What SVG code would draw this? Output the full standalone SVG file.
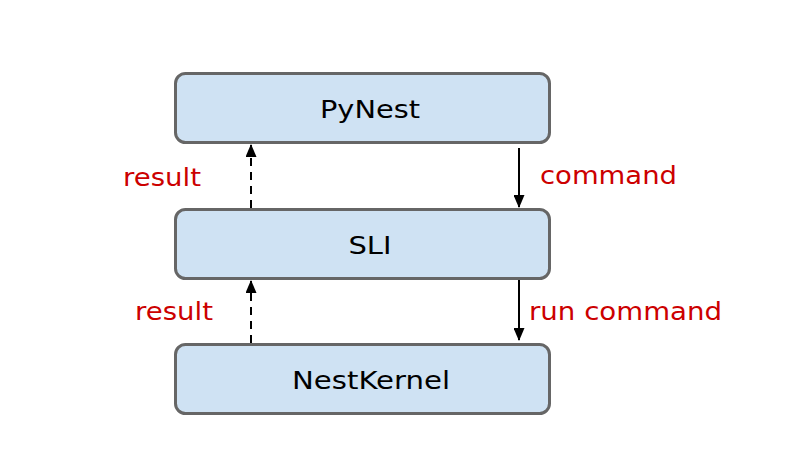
<svg xmlns="http://www.w3.org/2000/svg" width="794" height="474" viewBox="0 0 794 474">
<style>
.box{fill:#cfe2f3;stroke:#666666;stroke-width:3}
.t{font-family:"DejaVu Sans","Noto Sans",sans-serif;font-size:24px;fill:#000000;text-anchor:middle}
.lbl{font-family:"DejaVu Sans","Noto Sans",sans-serif;font-size:24px;fill:#cc0000}
.c{stroke:#000000;stroke-width:2;fill:none}
.d{stroke-dasharray:8,6}
</style>
<defs>
<marker id="ah" viewBox="0 0 13 11" refX="12" refY="5.5" markerWidth="13" markerHeight="11" markerUnits="userSpaceOnUse" orient="auto">
<path d="M0,0 L13,5.5 L0,11 z" fill="#000000"/>
</marker>
</defs>
<rect width="794" height="474" fill="#ffffff"/>
<g id="pynest">
<rect class="box" x="175.5" y="73.5" width="374" height="69" rx="10"/>
<text class="t" x="370" y="118" textLength="100" lengthAdjust="spacingAndGlyphs">PyNest</text>
</g>
<g id="sli">
<rect class="box" x="175.5" y="209.5" width="374" height="69" rx="10"/>
<text class="t" x="370" y="254" textLength="43" lengthAdjust="spacingAndGlyphs">SLI</text>
</g>
<g id="nestkernel">
<rect class="box" x="175.5" y="344.5" width="374" height="69" rx="10"/>
<text class="t" x="371" y="389" textLength="158" lengthAdjust="spacingAndGlyphs">NestKernel</text>
</g>
<g id="connectors">
<line class="c d" x1="251" y1="208" x2="251" y2="145" marker-end="url(#ah)"/>
<line class="c" x1="519" y1="148" x2="519" y2="207" marker-end="url(#ah)"/>
<line class="c d" x1="251" y1="343" x2="251" y2="281" marker-end="url(#ah)"/>
<line class="c" x1="519" y1="280" x2="519" y2="340" marker-end="url(#ah)"/>
<text class="lbl" x="123" y="186" textLength="78" lengthAdjust="spacingAndGlyphs">result</text>
<text class="lbl" x="540" y="184" textLength="137" lengthAdjust="spacingAndGlyphs">command</text>
<text class="lbl" x="135" y="320" textLength="78" lengthAdjust="spacingAndGlyphs">result</text>
<text class="lbl" x="529" y="320" textLength="193" lengthAdjust="spacingAndGlyphs">run command</text>
</g>
</svg>
